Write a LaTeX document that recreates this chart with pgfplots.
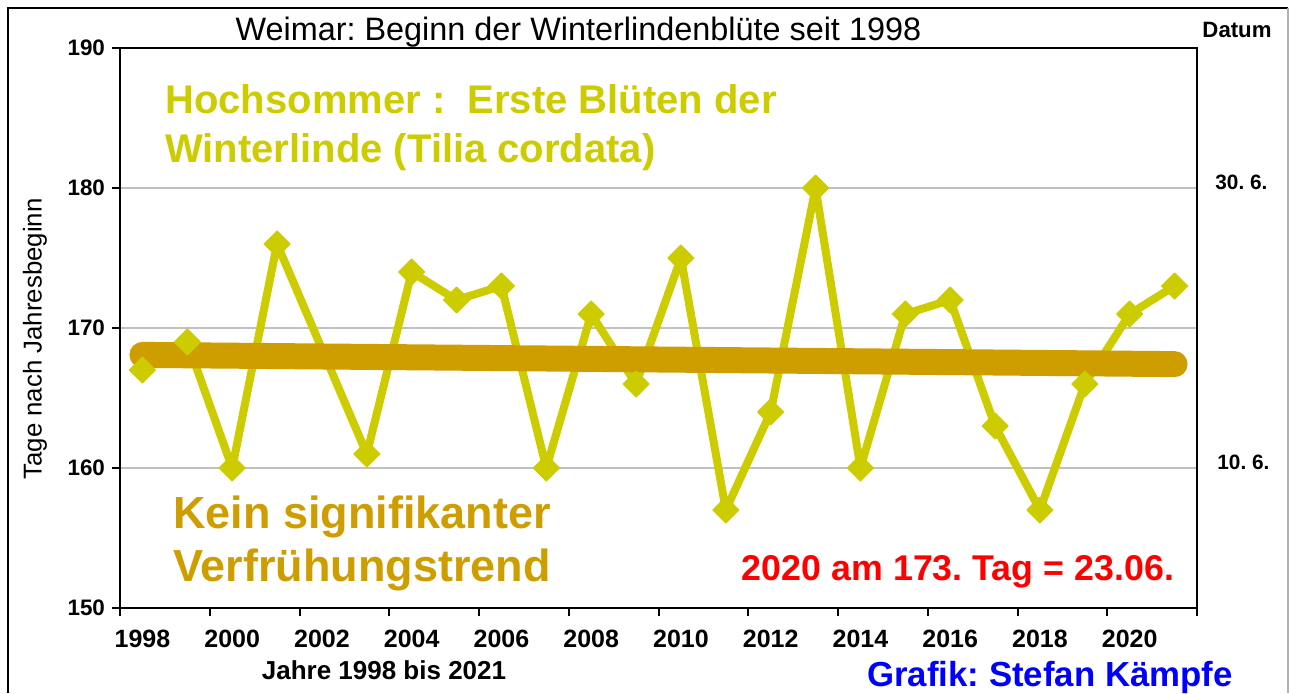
\documentclass[border=0pt]{standalone}
\usepackage{fontspec}
\setmainfont{Liberation Sans}
\usepackage{pgfplots}
\pgfplotsset{compat=1.18}
\definecolor{lineY}{RGB}{204,204,0}
\definecolor{trendC}{RGB}{206,158,0}
\definecolor{gridC}{RGB}{192,192,192}
\frenchspacing
\begin{document}
\begin{tikzpicture}
\useasboundingbox (0,0) rectangle (645.5pt,346.5pt);
\fill[white] (0,0) rectangle (645.5pt,346.5pt);
\draw[black, line width=0.8pt] (4pt,0) -- (4pt,342.5pt) -- (644pt,342.5pt);
\draw[gray!60, line width=0.6pt] (644pt,342.5pt) -- (644pt,0);
\begin{axis}[
  scale only axis, width=538.5pt, height=280pt,
  at={(60pt,42.5pt)}, anchor=south west,
  xmin=1997.5, xmax=2021.5, ymin=150, ymax=190,
  xtick={1998,2000,...,2020},
  minor xtick={1997.5,1999.5,...,2021.5},
  ytick={150,160,...,190},
  minor ytick={150,160,...,190},
  ymajorgrids, grid style={gridC, line width=1pt},
  tick align=outside, major tick length=0pt, minor tick length=4pt,
  xtick pos=lower, ytick pos=left,
  tick style={black, line width=1pt},
  axis line style={black, line width=1pt},
  xticklabel style={font=\fontsize{12.5}{14}\selectfont\bfseries, anchor=base, yshift=-19.5pt},
  yticklabel style={font=\fontsize{11.2}{13}\selectfont\bfseries, xshift=-4pt},
  /pgf/number format/assume math mode=true,
  /pgf/number format/1000 sep={},
  clip=false,
]
% 2002: no value (line connects 2001 and 2003)
\addplot[color=lineY, line width=4pt, line join=round,
  mark=square*, mark size=4.6pt,
  mark options={rotate=45, fill=lineY, draw=lineY, line width=0.5pt, solid}]
  coordinates {
  (1998,167) (1999,169) (2000,160) (2001,176) (2003,161)
  (2004,174) (2005,172) (2006,173) (2007,160) (2008,171) (2009,166)
  (2010,175) (2011,157) (2012,164) (2013,180) (2014,160) (2015,171)
  (2016,172) (2017,163) (2018,157) (2019,166) (2020,171) (2021,173)
  };
\addplot[color=trendC, line width=13pt, line cap=round, mark=none]
  coordinates {(1998,168.08) (2021,167.42)};
\end{axis}
% titles and annotations
\node[anchor=base, inner sep=0, font=\fontsize{16.2}{18}\selectfont] at (289.2pt,326.5pt) {Weimar: Beginn der Winterlindenblüte seit 1998};
\node[anchor=base, inner sep=0, font=\fontsize{11.1}{13}\selectfont\bfseries] at (618.5pt,327.5pt) {Datum};
\node[anchor=base west, inner sep=0, font=\fontsize{10.4}{12}\selectfont\bfseries] at (607.5pt,252pt) {30.\ 6.};
\node[anchor=base west, inner sep=0, font=\fontsize{10.4}{12}\selectfont\bfseries] at (608.5pt,112pt) {10.\ 6.};
\node[rotate=90, inner sep=0, font=\fontsize{12.9}{14}\selectfont] at (17.5pt,177pt) {Tage nach Jahresbeginn};
\node[anchor=base, inner sep=0, font=\fontsize{13}{15}\selectfont\bfseries] at (192pt,7pt) {Jahre 1998 bis 2021};
\node[anchor=base west, inner sep=0, text=lineY, font=\fontsize{20}{24}\selectfont\bfseries] at (82.5pt,290pt) {Hochsommer :\ \ Erste Blüten der};
\node[anchor=base west, inner sep=0, text=lineY, font=\fontsize{20}{24}\selectfont\bfseries] at (82.5pt,265.5pt) {Winterlinde (Tilia cordata)};
\node[anchor=base west, inner sep=0, text=trendC, font=\fontsize{22.5}{26}\selectfont\bfseries] at (86.5pt,82.5pt) {Kein signifikanter};
\node[anchor=base west, inner sep=0, text=trendC, font=\fontsize{22.5}{26}\selectfont\bfseries] at (86.5pt,56pt) {Verfrühungstrend};
\node[anchor=base, inner sep=0, text=red, font=\fontsize{17.9}{20}\selectfont\bfseries] at (479pt,56.5pt) {2020 am 173. Tag = 23.06.};
\node[anchor=base, inner sep=0, text=blue, font=\fontsize{17.4}{20}\selectfont\bfseries] at (525pt,3.5pt) {Grafik: Stefan Kämpfe};
\end{tikzpicture}
\end{document}
